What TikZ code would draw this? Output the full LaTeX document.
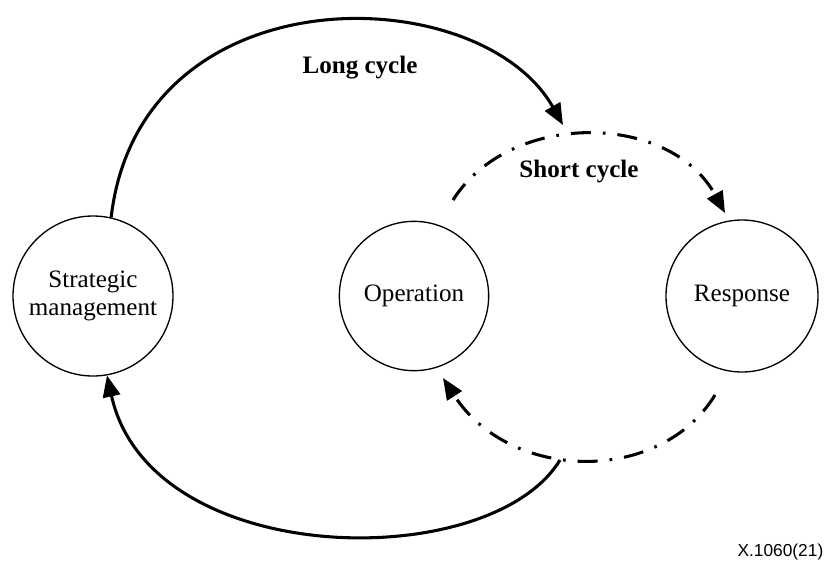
\documentclass[tikz,border=0pt]{standalone}
\usepackage{fontspec}
\setmainfont{Liberation Serif}
\setsansfont{Liberation Sans}
\usetikzlibrary{arrows.meta}
\begin{document}
\begin{tikzpicture}[x=0.75pt,y=-0.75pt,
  unit/.style={circle,draw,line width=1pt,inner sep=0pt,
    minimum size=#1,align=center,font=\fontsize{18.8}{21.5}\selectfont},
  cyclelabel/.style={font=\fontsize{18.8}{21.5}\selectfont\bfseries},
  longarc/.style={line width=2.3pt,-{Triangle[length=16pt,width=13pt]}},
  shortarc/.style={line width=2.3pt,dash pattern=on 15pt off 9pt on 2pt off 9pt,
    -{Triangle[length=16pt,width=13pt]}}]
\useasboundingbox (0,0) rectangle (829,562);

% the three units
\node[unit=120pt] (sm) at (93,296) {Strategic\\management};
\node[unit=112pt] (op) at (414,296) {Operation};
\node[unit=114pt] (resp) at (742,296) {Response};

% free ends of the cycle arrows
\coordinate (ltop) at (563,125);
\coordinate (lbot) at (560,460);
\coordinate (stop) at (453,200);
\coordinate (stipr) at (725,213);
\coordinate (sbot) at (715,395);
\coordinate (stipo) at (443,378);

% long cycle
\draw[longarc] (sm.77) .. controls (140,-30) and (480,-22) .. (ltop);
\draw[longarc] (lbot) .. controls (490,575) and (150,570) .. (sm.-80);

% short cycle
\draw[shortarc] (stop) .. controls (510,110) and (670,112) .. (stipr);
\draw[shortarc] (sbot) .. controls (660,485) and (510,482) .. (stipo);

% labels
\node[cyclelabel] (lc) at (360,68) {Long cycle};
\node[cyclelabel] (sc) at (579,172) {Short cycle};
\node[font=\sffamily\fontsize{13}{15}\selectfont,anchor=east] (ref) at (828,552) {X.1060(21)};
\end{tikzpicture}
\end{document}
